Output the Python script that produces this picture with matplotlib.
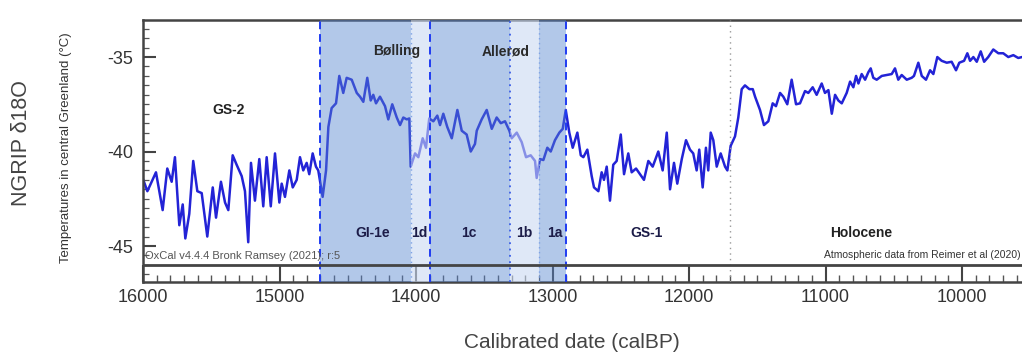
import matplotlib
matplotlib.use('Agg')
import numpy as np
import matplotlib.pyplot as plt
from matplotlib.ticker import MultipleLocator

plt.rcParams['font.family'] = ['Liberation Sans', 'DejaVu Sans']

# NGRIP d18O record (calBP, per mil)
years = [15998, 15968, 15905, 15856, 15822, 15790, 15766, 15734, 15709, 15690,
         15661, 15632, 15602, 15570, 15529, 15489, 15465, 15429, 15399, 15375,
         15343, 15314, 15277, 15253, 15229, 15209, 15180, 15148, 15119, 15094,
         15064, 15033, 15001, 14984, 14960, 14928, 14903, 14874, 14850, 14826,
         14801, 14782, 14757, 14733, 14716, 14684, 14659, 14642, 14618, 14586,
         14562, 14533, 14508, 14471, 14434, 14410, 14386, 14357, 14332, 14313,
         14293, 14264, 14227, 14203, 14174, 14141, 14117, 14093, 14068, 14049,
         14039, 14007, 13983, 13951, 13927, 13903, 13873, 13844, 13824, 13800,
         13771, 13738, 13697, 13665, 13629, 13599, 13568, 13555, 13519, 13482,
         13445, 13409, 13379, 13348, 13316, 13299, 13262, 13226, 13194, 13160,
         13128, 13116, 13092, 13067, 13038, 13013, 12982, 12950, 12925, 12903,
         12877, 12852, 12818, 12793, 12774, 12745, 12713, 12696, 12664, 12640,
         12623, 12603, 12579, 12555, 12530, 12500, 12476, 12445, 12420, 12388,
         12359, 12330, 12298, 12266, 12225, 12193, 12163, 12139, 12110, 12086,
         12053, 12022, 11993, 11969, 11944, 11925, 11900, 11876, 11859, 11841,
         11822, 11797, 11768, 11736, 11719, 11695, 11663, 11639, 11614, 11590,
         11558, 11533, 11516, 11480, 11451, 11419, 11387, 11363, 11333, 11309,
         11280, 11248, 11216, 11187, 11150, 11126, 11094, 11065, 11028, 11004,
         10979, 10954, 10930, 10906, 10881, 10845, 10820, 10796, 10776, 10759,
         10735, 10710, 10686, 10669, 10650, 10625, 10588, 10552, 10515, 10491,
         10467, 10442, 10405, 10369, 10352, 10320, 10295, 10264, 10234, 10210,
         10181, 10149, 10112, 10076, 10044, 10020, 9985, 9961, 9941, 9917,
         9892, 9863, 9838, 9808, 9771, 9734, 9698, 9661, 9624, 9588,
         9560, 9500]
d18o = [-41.5, -42.1, -41.1, -43.1, -40.9, -41.6, -40.3, -43.9, -42.8, -44.6,
        -43.3, -40.5, -42.1, -42.2, -44.5, -41.9, -43.5, -41.6, -42.7, -43.1,
        -40.2, -40.7, -41.3, -42.1, -44.8, -40.6, -42.6, -40.4, -42.9, -40.3,
        -42.9, -40.1, -42.7, -41.7, -42.4, -41.0, -41.9, -41.5, -40.3, -41.0,
        -40.6, -41.2, -40.1, -40.8, -41.0, -42.4, -41.0, -38.7, -37.7, -37.45,
        -36.0, -36.9, -36.1, -36.2, -36.9, -37.1, -37.37, -36.1, -37.3, -37.0,
        -37.45, -37.1, -37.6, -38.3, -37.5, -38.2, -38.6, -38.2, -38.3, -38.25,
        -40.8, -40.1, -40.3, -39.3, -39.8, -38.25, -38.4, -38.1, -38.6, -38.0,
        -38.7, -39.3, -37.8, -38.9, -39.1, -40.0, -39.6, -38.9, -38.3, -37.8,
        -38.8, -38.2, -38.5, -38.4, -38.9, -39.3, -39.0, -39.5, -40.3, -40.2,
        -40.5, -41.4, -40.4, -40.45, -39.8, -40.0, -39.4, -39.0, -38.8, -37.8,
        -39.0, -39.8, -39.0, -40.2, -40.3, -39.9, -41.3, -41.9, -42.1, -41.1,
        -41.5, -40.8, -42.6, -40.7, -40.5, -39.1, -41.2, -40.1, -41.1, -40.9,
        -41.2, -41.5, -40.5, -40.8, -40.0, -41.0, -39.0, -42.0, -40.6, -41.7,
        -40.4, -39.4, -39.9, -40.1, -41.0, -39.9, -41.9, -39.8, -41.0, -39.0,
        -39.4, -40.8, -40.1, -40.8, -41.0, -39.7, -39.2, -38.2, -36.7, -36.5,
        -36.7, -36.7, -37.1, -37.8, -38.6, -38.4, -37.45, -37.6, -36.9, -37.1,
        -37.5, -36.2, -37.5, -37.45, -36.8, -36.9, -36.6, -37.0, -36.4, -36.9,
        -36.75, -38.0, -37.0, -37.3, -37.45, -36.9, -36.3, -36.6, -36.0, -36.4,
        -35.9, -36.2, -35.8, -35.6, -36.1, -36.2, -36.0, -35.95, -35.9, -35.6,
        -36.2, -35.95, -36.2, -36.1, -36.0, -35.3, -36.0, -36.2, -35.7, -35.9,
        -35.0, -35.2, -35.3, -35.25, -35.7, -35.3, -35.2, -34.8, -35.2, -35.0,
        -35.25, -34.7, -35.25, -35.0, -34.6, -34.8, -34.8, -35.0, -34.9, -35.05,
        -35.0, -35.1]

# interstadial sub-phases (start, end) in calBP
dark_spans = [(14700, 14040), (13900, 13310), (13100, 12900)]
light_spans = [(14040, 13900), (13310, 13100)]
dashed_bounds = [14700, 13900, 12900]
dotted_bounds = [14040, 13310, 13100]
holocene_start = 11700

phase_labels = ['GI-1e', '1d', '1c', '1b', '1a', 'GS-1', 'Holocene']
phase_x = [14315, 13978, 13612, 13205, 12985, 12308, 10740]

fig = plt.figure(figsize=(10.22, 3.56), dpi=100)
ax = fig.add_axes([143 / 1022, 1 - 282 / 356, 887 / 1022, 262 / 356])

ax.plot(years, d18o, color='#2323d6', lw=1.8, zorder=2)

for a, b in dark_spans:
    ax.axvspan(a, b, color='#5685d0', alpha=0.45, lw=0, zorder=3)
for a, b in light_spans:
    ax.axvspan(a, b, color='#cad9f2', alpha=0.6, lw=0, zorder=3)
for xb in dashed_bounds:
    ax.axvline(xb, color='#1f3cf2', lw=1.4, ls=(0, (4, 2.5)), zorder=4)
ax.axvline(dotted_bounds[0], color='#7fa3e6', lw=1.0, ls=(0, (1, 2.5)), zorder=4)
ax.axvline(dotted_bounds[1], color='#3a5de6', lw=1.3, ls=(0, (1, 2.5)), zorder=4)
ax.axvline(dotted_bounds[2], color='#7fa3e6', lw=1.0, ls=(0, (1, 2.5)), zorder=4)
ax.axvline(holocene_start, color='#999999', lw=1.0, ls=(0, (1, 3)), zorder=4)

ax.axhline(-46.0, color='#444444', lw=2, zorder=5)

ax.set_xlim(16000, 9502)
ax.set_ylim(-46.905, -33.04)

# labels inside the plot
ax.text(15377, -37.8, 'GS-2', ha='center', va='center', fontsize=10,
        fontweight='bold', color='#222222', zorder=6)
ax.text(14140, -34.7, 'Bølling', ha='center', va='center', fontsize=10,
        fontweight='bold', color='#2a2a2a', zorder=6)
ax.text(13341, -34.7, 'Allerød', ha='center', va='center', fontsize=10,
        fontweight='bold', color='#2a2a2a', zorder=6)
for lab, xp in zip(phase_labels, phase_x):
    c = '#222222' if lab == 'Holocene' else '#1c1c48'
    ax.text(xp, -44.3, lab, ha='center', va='center', fontsize=10,
            fontweight='bold', color=c, zorder=6)

ax.text(15985, -45.55, 'OxCal v4.4.4 Bronk Ramsey (2021); r:5', ha='left',
        va='center', fontsize=8, color='#555555', zorder=6)
ax.text(9568, -45.5, 'Atmospheric data from Reimer et al (2020)', ha='right',
        va='center', fontsize=7.5, color='#333333', zorder=6)

# axes styling
for side in ['left', 'bottom', 'top']:
    ax.spines[side].set_color('#444444')
    ax.spines[side].set_linewidth(1.8)
ax.spines['right'].set_visible(False)

ax.xaxis.set_major_locator(MultipleLocator(1000))
ax.xaxis.set_minor_locator(MultipleLocator(100))
ax.yaxis.set_major_locator(MultipleLocator(5))
ax.yaxis.set_minor_locator(MultipleLocator(0.5))
ax.tick_params(axis='x', which='major', direction='in', length=12.2, width=1.5,
               color='#444444', labelsize=13, labelcolor='#333333', pad=5)
ax.tick_params(axis='x', which='minor', direction='in', length=5, width=1.0,
               color='#555555')
ax.tick_params(axis='y', which='major', direction='in', length=9, width=1.5,
               color='#444444', labelsize=13, labelcolor='#333333', pad=7)
ax.tick_params(axis='y', which='minor', direction='in', length=4.5, width=0.9,
               color='#555555')
ax.set_yticks([-35, -40, -45])
ax.set_yticklabels(['-35', '-40', '-45'])

fig.text(22 / 1022, 1 - 143 / 356, 'NGRIP δ18O', rotation=90, ha='center',
         va='center', fontsize=15.5, color='#444444')
fig.text(66 / 1022, 1 - 148 / 356, 'Temperatures in central Greenland (°C)',
         rotation=90, ha='center', va='center', fontsize=9.5, color='#333333')
fig.text(572 / 1022, 1 - 343 / 356, 'Calibrated date (calBP)', ha='center',
         va='center', fontsize=15, color='#444444')

fig.savefig('out.png', dpi=100)
